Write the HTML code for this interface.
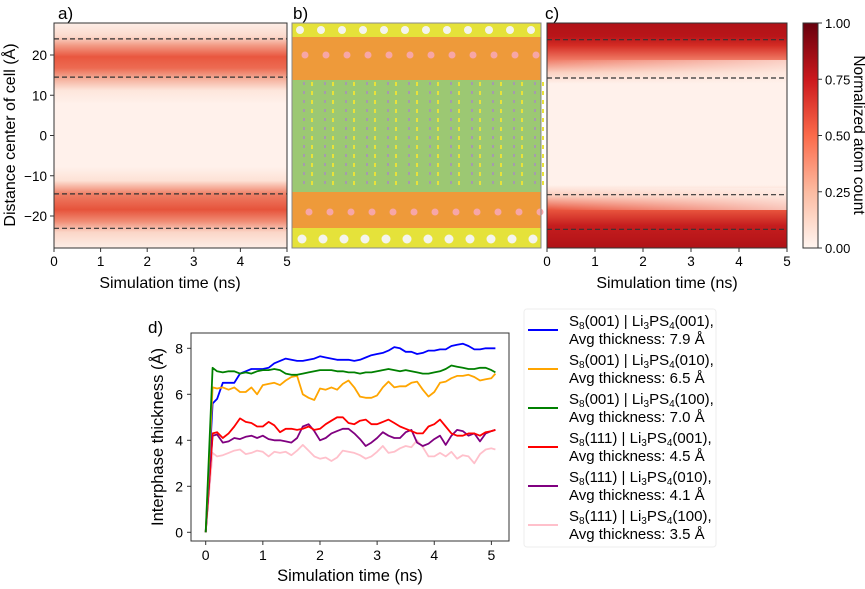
<!DOCTYPE html>
<html><head><meta charset="utf-8"><style>
body{margin:0;background:#fff;}
svg{display:block;font-family:"Liberation Sans",Arial,sans-serif;}
</style></head><body>
<svg id="fig" width="865" height="589" viewBox="0 0 865 589">
<defs>
<linearGradient id="gA" x1="0" y1="23" x2="0" y2="248" gradientUnits="userSpaceOnUse">
<stop offset="0" stop-color="#fdeee7"/><stop offset="0.06" stop-color="#fbd9cc"/>
<stop offset="0.1" stop-color="#f29a84"/><stop offset="0.15" stop-color="#e9573f"/>
<stop offset="0.2" stop-color="#ec6b52"/><stop offset="0.25" stop-color="#f5b19d"/>
<stop offset="0.3" stop-color="#fde6dc"/><stop offset="0.36" stop-color="#fff1eb"/>
<stop offset="0.64" stop-color="#fff1eb"/><stop offset="0.7" stop-color="#fde2d6"/>
<stop offset="0.76" stop-color="#ef7f66"/><stop offset="0.83" stop-color="#e6533b"/>
<stop offset="0.88" stop-color="#f08a72"/><stop offset="0.93" stop-color="#fbd6c8"/>
<stop offset="1" stop-color="#fdeee7"/>
</linearGradient>
<linearGradient id="gC" x1="0" y1="23" x2="0" y2="248" gradientUnits="userSpaceOnUse">
<stop offset="0" stop-color="#b01217"/><stop offset="0.06" stop-color="#b91519"/>
<stop offset="0.1" stop-color="#d42c24"/><stop offset="0.16" stop-color="#ee7560"/>
<stop offset="0.22" stop-color="#fbd0c0"/><stop offset="0.27" stop-color="#fff1eb"/>
<stop offset="0.72" stop-color="#fff1eb"/><stop offset="0.77" stop-color="#fbcab9"/>
<stop offset="0.83" stop-color="#e9553e"/><stop offset="0.9" stop-color="#c51d1e"/>
<stop offset="1" stop-color="#b01217"/>
</linearGradient>
<linearGradient id="gFade" x1="0" y1="0" x2="1" y2="0">
<stop offset="0" stop-color="#fff1eb" stop-opacity="0"/><stop offset="1" stop-color="#fff1eb" stop-opacity="0.7"/>
</linearGradient>
<linearGradient id="gBar" x1="0" y1="1" x2="0" y2="0">
<stop offset="0" stop-color="#fff5f0"/><stop offset="0.25" stop-color="#fcbba1"/>
<stop offset="0.5" stop-color="#fb6a4a"/><stop offset="0.75" stop-color="#cb181d"/>
<stop offset="1" stop-color="#67000d"/>
</linearGradient>
</defs>

<!-- Panel a -->
<text x="58" y="19" font-size="17">a)</text>
<rect x="54" y="23" width="233" height="225" fill="url(#gA)"/>
<g stroke="#333" stroke-dasharray="5,3" stroke-width="1.2">
<line x1="54" x2="287" y1="38.9" y2="38.9"/><line x1="54" x2="287" y1="77.1" y2="77.1"/>
<line x1="54" x2="287" y1="193.9" y2="193.9"/><line x1="54" x2="287" y1="228.3" y2="228.3"/>
</g>
<rect x="54" y="23" width="233" height="225" fill="none" stroke="#333"/>
<g id="axA"></g>
<text transform="translate(15,135) rotate(-90)" text-anchor="middle" font-size="16">Distance center of cell (Å)</text>
<text x="170" y="288" text-anchor="middle" font-size="16">Simulation time (ns)</text>

<!-- Panel b -->
<text x="293" y="19" font-size="17">b)</text>
<g>
<rect x="292" y="23" width="249" height="225" fill="#f4f4ee"/>
<rect x="292" y="23" width="249" height="14" fill="#e5e23a"/>
<rect x="292" y="37" width="249" height="43" fill="#ee9a3a"/>
<rect x="292" y="80" width="249" height="112" fill="#9cc873"/>
<rect x="292" y="192" width="249" height="36" fill="#ee9a3a"/>
<rect x="292" y="228" width="249" height="20" fill="#e5e23a"/>
<g id="bTex"></g>
</g>
<rect x="292" y="23" width="249" height="225" fill="none" stroke="#888"/>

<!-- Panel c -->
<text x="545" y="19" font-size="17">c)</text>
<rect x="547" y="23" width="240" height="225" fill="url(#gC)"/>
<rect x="547" y="60" width="240" height="26" fill="url(#gFade)"/>
<rect x="547" y="188" width="240" height="22" fill="url(#gFade)"/>
<g stroke="#333" stroke-dasharray="5,3" stroke-width="1.2">
<line x1="547" x2="787" y1="39.7" y2="39.7"/><line x1="547" x2="787" y1="78" y2="78"/>
<line x1="547" x2="787" y1="194.7" y2="194.7"/><line x1="547" x2="787" y1="229.3" y2="229.3"/>
</g>
<rect x="547" y="23" width="240" height="225" fill="none" stroke="#333"/>
<g id="axC"></g>
<text x="667" y="288" text-anchor="middle" font-size="16">Simulation time (ns)</text>
<rect x="803" y="23" width="15" height="225" fill="url(#gBar)" stroke="#333"/>
<g id="cbar"></g>
<text transform="translate(854,135) rotate(90)" text-anchor="middle" font-size="15.5">Normalized atom count</text>

<!-- Panel d -->
<text x="148" y="333" font-size="17">d)</text>
<g id="lines"></g>
<rect x="191" y="333" width="318" height="208" fill="none" stroke="#333"/>
<g id="axD"></g>
<text transform="translate(163,437) rotate(-90)" text-anchor="middle" font-size="16.5">Interphase thickness (Å)</text>
<text x="350" y="581" text-anchor="middle" font-size="16.5">Simulation time (ns)</text>
<rect x="524" y="309" width="192" height="238" rx="3" fill="#fff" stroke="#eee"/>
<g id="legend"></g>
</svg>
<script>
const NS="http://www.w3.org/2000/svg";
const times=[0,0.12,0.2,0.3,0.4,0.5,0.6,0.7,0.8,0.9,1.0,1.1,1.2,1.3,1.4,1.5,1.6,1.7,1.8,1.9,2.0,2.1,2.2,2.3,2.4,2.5,2.6,2.7,2.8,2.9,3.0,3.1,3.2,3.3,3.4,3.5,3.6,3.7,3.8,3.9,4.0,4.1,4.2,4.3,4.4,4.5,4.6,4.7,4.8,4.9,5.0,5.07];
const blue=[0,5.6,5.8,6.5,6.5,6.5,6.9,7.0,7.1,7.1,7.1,7.15,7.35,7.45,7.55,7.5,7.45,7.45,7.5,7.55,7.65,7.6,7.55,7.5,7.5,7.5,7.45,7.5,7.6,7.7,7.75,7.8,7.9,8.05,8.0,7.85,7.85,7.75,7.8,7.9,7.9,7.95,7.95,8.1,8.15,8.2,8.1,7.95,7.95,8.0,8.0,8.0];
const orange=[0,6.3,6.25,6.3,6.2,6.3,6.1,6.1,6.3,6.0,6.4,6.45,6.5,6.4,6.6,6.75,6.8,6.0,5.85,5.75,6.25,6.2,6.3,6.2,6.45,6.6,6.3,5.9,5.85,5.85,5.95,6.3,6.55,6.3,6.35,6.35,6.5,6.55,6.2,5.9,6.1,6.5,6.55,6.7,6.8,6.8,6.85,6.75,6.6,6.65,6.7,6.9];
const green=[0,7.15,7.0,6.95,7.0,7.0,6.9,6.95,6.9,7.0,7.05,7.05,7.1,7.05,6.9,6.85,6.85,6.9,6.95,7.0,7.05,7.05,7.05,7.0,7.0,6.95,6.95,6.9,6.95,6.95,7.0,7.05,7.1,7.05,7.0,7.05,7.0,6.95,6.9,6.9,6.95,7.0,7.1,7.25,7.2,7.15,7.1,7.1,7.15,7.15,7.05,6.95];
const red=[0,4.3,4.35,4.1,4.3,4.6,4.95,4.8,4.75,4.6,4.6,4.8,4.65,4.35,4.5,4.5,4.45,4.5,4.6,4.45,4.5,4.7,4.85,5.0,5.0,4.75,4.7,4.85,4.9,4.7,4.7,4.8,4.9,4.75,4.6,4.5,4.4,4.3,4.3,4.6,4.7,4.9,4.6,4.3,4.2,4.2,4.3,4.3,4.2,4.35,4.4,4.45];
const purple=[0,4.2,4.25,3.9,3.95,4.1,4.05,4.15,4.2,4.1,4.2,4.05,4.0,4.0,3.95,3.9,4.1,4.6,4.7,4.4,4.0,4.1,4.3,4.4,4.5,4.5,4.3,4.05,3.75,3.9,4.1,4.35,4.2,4.1,4.1,4.35,4.45,3.9,3.75,3.85,4.05,4.2,3.8,4.2,4.45,4.4,4.2,4.3,3.95,4.3,4.4,4.45];
const pink=[0,3.45,3.3,3.35,3.45,3.55,3.6,3.4,3.45,3.55,3.5,3.3,3.5,3.45,3.5,3.35,3.55,3.8,3.55,3.3,3.2,3.25,3.1,3.25,3.55,3.5,3.45,3.35,3.2,3.3,3.5,3.75,3.45,3.5,3.65,3.75,3.7,4.0,3.7,3.3,3.3,3.45,3.3,3.5,3.2,3.35,3.3,3.0,3.4,3.6,3.65,3.6];
const seriesNames=["S8(001) | Li3PS4(001)","S8(001) | Li3PS4(010)","S8(001) | Li3PS4(100)","S8(111) | Li3PS4(001)","S8(111) | Li3PS4(010)","S8(111) | Li3PS4(100)"];
const avgThickness=["7.9","6.5","7.0","4.5","4.1","3.5"];
const seriesColors=["#0000ff","#ffa500","#008000","#ff0000","#800080","#ffc0cb"];
const timeTicks=[0,1,2,3,4,5];
const distTicks=[20,10,0,-10,-20];
const thickTicks=[0,2,4,6,8];
const cbarTicks=["0.00","0.25","0.50","0.75","1.00"];

function el(tag,attrs,parent){const e=document.createElementNS(NS,tag);for(const k in attrs)e.setAttribute(k,attrs[k]);parent.appendChild(e);return e;}
const xD=t=>205.7+t*57.14, yD=v=>532.3-v*23;
const yA=v=>135.5-v*4.025;

const axA=document.getElementById('axA');
distTicks.forEach(v=>{el('line',{x1:50,x2:54,y1:yA(v),y2:yA(v),stroke:'#333'},axA);
 const t=el('text',{x:47,y:yA(v)+5,'text-anchor':'end','font-size':13.5},axA);t.textContent=v<0?'\u2212'+(-v):v;
 
 });
function xticks(g,x0,w){timeTicks.forEach(v=>{const x=x0+v*w/5;el('line',{x1:x,x2:x,y1:248,y2:252,stroke:'#333'},g);
 const t=el('text',{x:x,y:266,'text-anchor':'middle','font-size':13.5},g);t.textContent=v;
 
 });}
xticks(axA,54,233);
xticks(document.getElementById('axC'),547,240);
const cb=document.getElementById('cbar');
cbarTicks.forEach((s,i)=>{const y=248-i*225/4;el('line',{x1:818,x2:822,y1:y,y2:y,stroke:'#333'},cb);
 const t=el('text',{x:825,y:y+5,'font-size':13},cb);t.textContent=s;
 
 });

const bt=document.getElementById('bTex');
for(let i=0;i<12;i++){const x=300+i*21;
 el('circle',{cx:x,cy:30,r:4,fill:'#f4f4ee'},bt);el('circle',{cx:x+2,cy:239,r:4.5,fill:'#f4f4ee'},bt);
 el('circle',{cx:x+5,cy:55,r:3.5,fill:'#f7a6a6'},bt);el('circle',{cx:x+9,cy:212,r:3.5,fill:'#f7a6a6'},bt);
 el('line',{x1:x+4,x2:x+4,y1:82,y2:190,stroke:'#a98cc0','stroke-width':1.5,'stroke-dasharray':'3,6'},bt);
 el('line',{x1:x+12,x2:x+12,y1:82,y2:190,stroke:'#e8e23a','stroke-width':2,'stroke-dasharray':'4,5'},bt);}

const axD=document.getElementById('axD');
thickTicks.forEach(v=>{el('line',{x1:187,x2:191,y1:yD(v),y2:yD(v),stroke:'#333'},axD);
 const t=el('text',{x:183,y:yD(v)+5,'text-anchor':'end','font-size':14},axD);t.textContent=v;
 
 });
timeTicks.forEach(v=>{el('line',{x1:xD(v),x2:xD(v),y1:541,y2:545,stroke:'#333'},axD);
 const t=el('text',{x:xD(v),y:560,'text-anchor':'middle','font-size':14},axD);t.textContent=v;
 
 });

const all=[blue,orange,green,red,purple,pink];
const lg=document.getElementById('lines');
[5,4,3,0,1,2].forEach(i=>{const d=all[i];const n=Math.min(d.length,times.length);
 let p='';for(let k=0;k<n;k++)p+=(k?'L':'M')+xD(times[k]).toFixed(1)+','+yD(d[k]).toFixed(1);
 const path=el('path',{d:p,fill:'none',stroke:seriesColors[i],'stroke-width':1.8,'stroke-linejoin':'round'},lg);
 
 });

const leg=document.getElementById('legend');
seriesNames.forEach((s,i)=>{const y=330+i*39;
 const ln=el('line',{x1:528,x2:558,y1:y,y2:y,stroke:seriesColors[i],'stroke-width':2},leg);
 
 
 const m=s.match(/S8\((\d+)\) \| Li3PS4\((\d+)\)/);
 const t=el('text',{x:569,y:y-4,'font-size':15},leg);
 t.innerHTML='S<tspan font-size="10" dy="3">8</tspan><tspan dy="-3">('+m[1]+') | Li</tspan><tspan font-size="10" dy="3">3</tspan><tspan dy="-3">PS</tspan><tspan font-size="10" dy="3">4</tspan><tspan dy="-3">('+m[2]+'),</tspan>';
 
 
 const t2=el('text',{x:569,y:y+14,'font-size':15},leg);t2.textContent='Avg thickness: '+avgThickness[i]+' Å';
 
 });
</script>
</body></html>
